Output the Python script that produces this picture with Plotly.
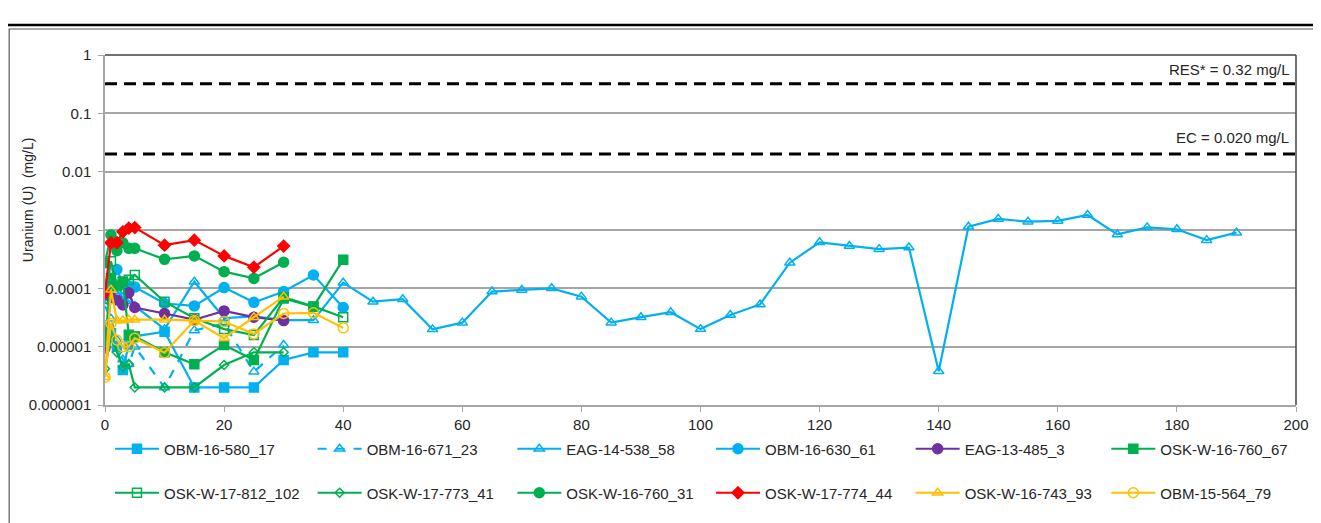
import plotly.graph_objects as go

# ---------------- data ----------------
t30 = [0, 1, 2, 3, 4, 5, 10, 15, 20, 25, 30]
t40 = [0, 1, 2, 3, 4, 5, 10, 15, 20, 25, 30, 35, 40]
t_eag = [0, 1, 2, 3, 4, 5, 10, 15, 20, 25, 30, 35, 40, 45, 50, 55, 60, 65, 70, 75,
         80, 85, 90, 95, 100, 105, 110, 115, 120, 125, 130, 135, 140, 145, 150,
         155, 160, 165, 170, 175, 180, 185, 190]

obm_16_580_17 = [2.1e-5, 1.7e-5, 1.0e-5, 4e-6, 1.1e-5, 1.5e-5, 1.8e-5, 2e-6, 2e-6, 2e-6, 5.9e-6, 8e-6, 8e-6]
obm_16_671_23 = [5e-5, 3e-5, 1.3e-5, 6e-6, 5e-6, 1.0e-5, 2e-6, 1.9e-5, 2.5e-5, 3.7e-6, 1.07e-5]
eag_14_538_58 = [6e-5, 1.5e-4, 9e-5, 7e-5, 6e-5, 5e-5, 2e-5, 1.3e-4, 3.1e-5, 3.3e-5, 2.85e-5, 2.85e-5,
                 1.25e-4, 5.9e-5, 6.5e-5, 1.98e-5, 2.58e-5, 8.8e-5, 9.4e-5, 1.0e-4, 7.2e-5, 2.58e-5,
                 3.2e-5, 3.9e-5, 2.0e-5, 3.5e-5, 5.3e-5, 2.75e-4, 6.15e-4, 5.3e-4, 4.7e-4, 5.0e-4,
                 3.8e-6, 1.14e-3, 1.55e-3, 1.39e-3, 1.43e-3, 1.81e-3, 8.4e-4, 1.11e-3, 1.03e-3,
                 6.7e-4, 9.0e-4]
obm_16_630_61 = [9e-5, 1.3e-4, 2.1e-4, 1.2e-4, 1.1e-4, 1.05e-4, 5.5e-5, 5e-5, 1.03e-4, 5.75e-5, 8.8e-5, 1.69e-4, 4.7e-5]
eag_13_485_3 = [9.5e-6, 7e-5, 6.3e-5, 5.2e-5, 8.4e-5, 4.7e-5, 3.7e-5, 2.9e-5, 4.1e-5, 3.2e-5, 2.8e-5]
osk_w_16_760_67 = [1.2e-5, 1.5e-4, 1.1e-4, 1.3e-4, 1.6e-5, 1.5e-5, 8e-6, 5e-6, 1.07e-5, 5.9e-6, 6.7e-5, 4.85e-5, 3.1e-4]
osk_w_17_812_102 = [6.6e-5, 2.9e-4, 1.1e-4, 1.3e-4, 1.4e-4, 1.7e-4, 5.9e-5, 3.06e-5, 2e-5, 1.58e-5, 7e-5, 4.9e-5, 3.2e-5]
osk_w_17_773_41 = [4.2e-6, 1.5e-5, 8e-6, 4.5e-6, 5e-6, 2e-6, 2e-6, 2e-6, 4.85e-6, 8e-6, 8e-6]
osk_w_16_760_31 = [2.75e-4, 8.2e-4, 4.4e-4, 6.05e-4, 4.85e-4, 4.85e-4, 3.14e-4, 3.6e-4, 1.93e-4, 1.48e-4, 2.8e-4]
osk_w_17_774_44 = [8.4e-5, 6.05e-4, 6.05e-4, 9.3e-4, 1.08e-3, 1.1e-3, 5.5e-4, 6.7e-4, 3.6e-4, 2.3e-4, 5.3e-4]
osk_w_16_743_93 = [3e-6, 9.5e-5, 2.8e-5, 2.8e-5, 2.9e-5, 2.9e-5, 2.9e-5, 2.8e-5, 1.4e-5, 3.2e-5, 7.2e-5]
obm_15_564_79 = [3e-6, 2.5e-5, 1.3e-5, 1.0e-5, 1.0e-5, 1.4e-5, 7.9e-6, 2.8e-5, 2.7e-5, 1.65e-5, 3.7e-5, 3.8e-5, 2.1e-5]

guideline_x = [0, 200]
res_value = 0.32
ec_value = 0.020
res_label = "RES* = 0.32 mg/L"
ec_label = "EC = 0.020 mg/L"

y_tickvals = [1e-6, 1e-5, 1e-4, 1e-3, 1e-2, 1e-1, 1]
y_ticktext = ["0.000001", "0.00001", "0.0001", "0.001", "0.01", "0.1", "1"]
x_tickvals = [0, 20, 40, 60, 80, 100, 120, 140, 160, 180, 200]

# ---------------- style ----------------
BLUE = "#00B0F0"
PURPLE = "#7030A0"
GREEN = "#00B050"
RED = "#FF0000"
YELLOW = "#FFC000"
FONT = "Liberation Sans"
TXT = "#262626"

# page offset (body margin) and figure geometry
OFF = 8
W, H = 1313, 515
L, T = 97, 47
PW, PH = 1193, 350
R = W - L - PW
B = H - T - PH


def px_x(screen_x):
    return (screen_x - OFF - L) / PW


def px_y(screen_y):
    return (T + PH - (screen_y - OFF)) / PH


series = [
    ("OBM-16-580_17", t40, obm_16_580_17, BLUE, "solid", "square", 9),
    ("OBM-16-671_23", t30, obm_16_671_23, BLUE, "dash", "triangle-up-open", 9),
    ("EAG-14-538_58", t_eag, eag_14_538_58, BLUE, "solid", "triangle-up-open", 9),
    ("OBM-16-630_61", t40, obm_16_630_61, BLUE, "solid", "circle", 10),
    ("EAG-13-485_3", t30, eag_13_485_3, PURPLE, "solid", "circle", 10),
    ("OSK-W-16-760_67", t40, osk_w_16_760_67, GREEN, "solid", "square", 9),
    ("OSK-W-17-812_102", t40, osk_w_17_812_102, GREEN, "solid", "square-open", 9),
    ("OSK-W-17-773_41", t30, osk_w_17_773_41, GREEN, "solid", "diamond-open", 7),
    ("OSK-W-16-760_31", t30, osk_w_16_760_31, GREEN, "solid", "circle", 10),
    ("OSK-W-17-774_44", t30, osk_w_17_774_44, RED, "solid", "diamond", 9),
    ("OSK-W-16-743_93", t30, osk_w_16_743_93, YELLOW, "solid", "triangle-up-open", 9),
    ("OBM-15-564_79", t40, obm_15_564_79, YELLOW, "solid", "circle-open", 10),
]

# legend item text starts (screen pixels) and rows
leg_text_x = [164, 367, 567, 766, 966, 1162]
leg_row_y = [449, 493]
ITEMW = 44
TEXT_OFFSET = ITEMW + 10

fig = go.Figure()

for val in (res_value, ec_value):
    fig.add_trace(go.Scatter(x=guideline_x, y=[val, val], mode="lines",
                             line=dict(color="black", width=3, dash="12px,7px"),
                             showlegend=False, hoverinfo="skip"))

layout_legends = {}
for i, (name, xs, ys, color, dash, sym, size) in enumerate(series):
    leg_id = "legend" if i == 0 else f"legend{i + 1}"
    fig.add_trace(go.Scatter(
        x=xs, y=ys, name=name, mode="lines+markers",
        line=dict(color=color, width=2.2, dash=dash),
        marker=dict(symbol=sym, size=size, color=color,
                    line=dict(color=color, width=1.5)),
        legend=leg_id,
    ))
    row = i // 6
    col = i % 6
    layout_legends[leg_id] = dict(
        orientation="h", itemwidth=ITEMW,
        x=px_x(leg_text_x[col] - TEXT_OFFSET), xanchor="left",
        y=px_y(leg_row_y[row]), yanchor="middle",
        font=dict(family=FONT, size=15, color=TXT),
        bgcolor="rgba(0,0,0,0)", borderwidth=0,
    )

fig.update_layout(
    width=W, height=H,
    margin=dict(l=L, r=R, t=T, b=B, pad=0),
    paper_bgcolor="white", plot_bgcolor="white",
    font=dict(family=FONT, size=15, color=TXT),
    showlegend=True,
    **layout_legends,
)

fig.update_xaxes(
    range=[0, 200], tickvals=x_tickvals, ticks="outside", ticklen=5,
    tickcolor="#a6a6a6", showgrid=False, zeroline=False,
    showline=True, linecolor="#a6a6a6", linewidth=1.5,
    tickfont=dict(family=FONT, size=15, color=TXT),
)
fig.update_yaxes(
    type="log", range=[-6, 0], tickvals=y_tickvals, ticktext=y_ticktext,
    ticks="outside", ticklen=5, tickcolor="#a6a6a6", ticklabelstandoff=4,
    showgrid=True, gridcolor="#a6a6a6", gridwidth=1.5,
    showline=True, linecolor="#a6a6a6", linewidth=1.5,
    tickfont=dict(family=FONT, size=15, color=TXT),
)

# plot-area top and right edges (dark)
fig.add_shape(type="line", xref="paper", yref="paper", x0=0, x1=1, y0=1, y1=1,
              line=dict(color="#404040", width=1.5))
fig.add_shape(type="line", xref="paper", yref="paper", x0=1, x1=1, y0=0, y1=1,
              line=dict(color="#404040", width=1.5))

# outer frame
fig.add_shape(type="line", xref="paper", yref="paper", x0=px_x(0), x1=px_x(1330),
              y0=px_y(25), y1=px_y(25), line=dict(color="black", width=2.5))
fig.add_shape(type="rect", xref="paper", yref="paper", x0=px_x(9), x1=px_x(1316),
              y0=px_y(540), y1=px_y(29), line=dict(color="#595959", width=1.2),
              fillcolor="rgba(0,0,0,0)", layer="below")

# annotations
fig.add_annotation(text=res_label, xref="paper", yref="paper", x=px_x(1293), y=px_y(69),
                   xanchor="right", yanchor="middle", showarrow=False,
                   font=dict(family=FONT, size=15, color=TXT))
fig.add_annotation(text=ec_label, xref="paper", yref="paper", x=px_x(1293), y=px_y(137),
                   xanchor="right", yanchor="middle", showarrow=False,
                   font=dict(family=FONT, size=15, color=TXT))
fig.add_annotation(text="Uranium (U)  (mg/L)", xref="paper", yref="paper",
                   x=px_x(28), y=px_y(200), textangle=-90,
                   xanchor="center", yanchor="middle", showarrow=False,
                   font=dict(family=FONT, size=14, color=TXT))

fig.write_html("out.html")
